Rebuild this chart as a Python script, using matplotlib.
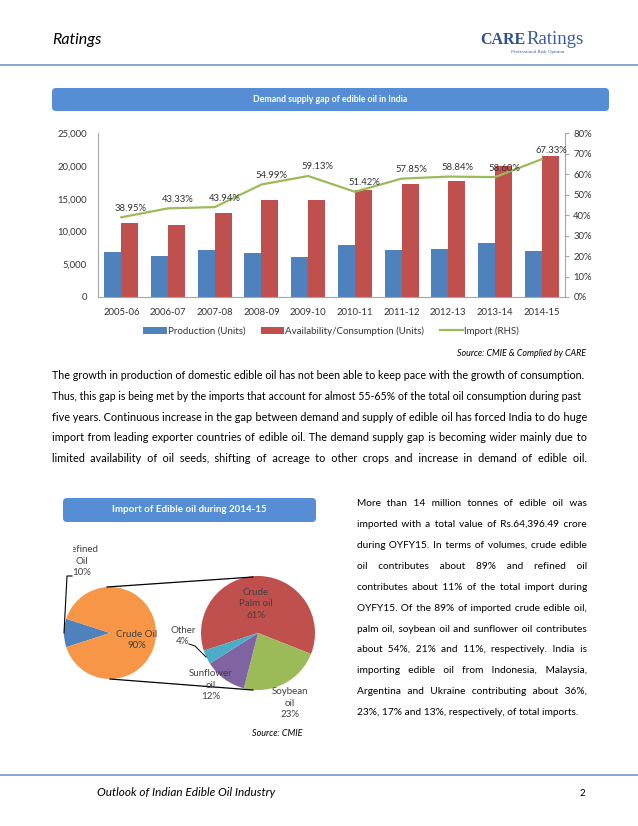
import matplotlib
matplotlib.use("Agg")
import matplotlib.pyplot as plt
from matplotlib.patches import FancyBboxPatch
from matplotlib.transforms import Bbox
from matplotlib.ticker import FuncFormatter, MultipleLocator

plt.rcParams["font.family"] = ["Lato", "DejaVu Sans"]

W, H = 638, 826

# ---- data -------------------------------------------------------------
years = ["2005-06", "2006-07", "2007-08", "2008-09", "2009-10",
         "2010-11", "2011-12", "2012-13", "2013-14", "2014-15"]
production = [6900, 6220, 7180, 6700, 6080, 7920, 7250, 7280, 8250, 7020]
availability = [11310, 10970, 12810, 14890, 14880, 16300, 17200, 17690, 19930, 21490]
import_share = [38.95, 43.33, 43.94, 54.99, 59.13, 51.42, 57.85, 58.84, 58.60, 67.33]

split_names = ["Refined\nOil", "Crude Oil"]
split_share = [10, 90]
crude_names = ["Crude\nPalm oil", "Soybean\noil", "Sunflower\noil", "Other"]
crude_share = [61, 23, 12, 4]

BLUE, RED, GREEN = "#4F81BD", "#C0504D", "#9BBB59"
PURPLE, TEAL, ORANGE = "#8064A2", "#4BACC6", "#F79646"
BANNER = "#558ED5"
RULE = "#7F9FCF"
TXT = "#333333"
PL = "#404040"

para1 = [
    "The growth in production of domestic edible oil has not been able to keep pace with the growth of consumption.",
    "Thus, this gap is being met by the imports that account for almost 55-65% of the total oil consumption during past",
    "five years. Continuous increase in the gap between demand and supply of edible oil has forced India to do huge",
    "import from leading exporter countries of edible oil. The demand supply gap is becoming wider mainly due to",
    "limited availability of oil seeds, shifting of acreage to other crops and increase in demand of edible oil.",
]
para2 = [
    "More than 14 million tonnes of edible oil was",
    "imported with a total value of Rs.64,396.49 crore",
    "during OYFY15. In terms of volumes, crude edible",
    "oil contributes about 89% and refined oil",
    "contributes about 11% of the total import during",
    "OYFY15. Of the 89% of imported crude edible oil,",
    "palm oil, soybean oil and sunflower oil contributes",
    "about 54%, 21% and 11%, respectively. India is",
    "importing edible oil from Indonesia, Malaysia,",
    "Argentina and Ukraine contributing about 36%,",
    "23%, 17% and 13%, respectively, of total imports.",
]

fig = plt.figure(figsize=(W / 100, H / 100), dpi=100)


def sheet(z):
    a = fig.add_axes([0, 0, 1, 1], zorder=z)
    a.set_xlim(0, W)
    a.set_ylim(H, 0)
    a.axis("off")
    return a


page = sheet(0)
top = sheet(5)
rend = fig.canvas.get_renderer()


def frac(x0, y0, x1, y1):
    # pixel box on the page -> figure fraction rect
    return [x0 / W, 1 - y1 / H, (x1 - x0) / W, (y1 - y0) / H]


def banner(x0, y0, x1, y1, text, size):
    p = FancyBboxPatch((x0, y0), x1 - x0, y1 - y0,
                       boxstyle="round,pad=0,rounding_size=4",
                       facecolor=BANNER, edgecolor="none")
    page.add_patch(p)
    page.text((x0 + x1) / 2, (y0 + y1) / 2, text, ha="center", va="center",
              color="white", fontsize=size, weight="bold")


def width_of(s, size):
    t = page.text(0, 0, s, fontsize=size)
    w = t.get_window_extent(rend).width
    t.remove()
    return w


HAIR = "\u200a"


def justified(lines, x0, x1, y0, dy, size, last_ragged=False):
    hw = (width_of("a" + HAIR * 20 + "a", size) - width_of("aa", size)) / 20
    for k, line in enumerate(lines):
        y = y0 + k * dy
        words = line.split()
        plain = " ".join(words)
        w0 = width_of(plain, size)
        if w0 >= x1 - x0:
            page.text(x0, y, plain, fontsize=size * (x1 - x0) / w0,
                      va="baseline", color="black")
            continue
        if last_ragged and k == len(lines) - 1:
            page.text(x0, y, plain, fontsize=size, va="baseline", color="black")
            continue
        n = len(words) - 1
        total = int(round((x1 - x0 - w0) / hw))
        s = words[0]
        for i in range(n):
            kk = (i + 1) * total // n - i * total // n
            s += " " + HAIR * kk + words[i + 1]
        page.text(x0, y, s, fontsize=size, va="baseline", color="black")


# ---- header ------------------------------------------------------------
page.text(52, 40, "Ratings", style="italic", fontsize=11.5, va="center")
page.text(480, 40, "CARE", family="Liberation Serif", weight="bold",
          fontsize=11.5, color="#2F4F8F", va="center")
page.text(526, 40, "Ratings", family="Liberation Serif", fontsize=13.5,
          color="#3A5A9C", va="center")
page.text(538, 52, "Professional Risk Opinion", family="Liberation Serif",
          fontsize=3.6, color="#3A5A9C", ha="center", va="center")
page.plot([0, W], [65, 65], color=RULE, lw=1.3)

banner(52, 88, 609, 111, "Demand supply gap of edible oil in India", 6.3)

# ---- bar + line chart --------------------------------------------------
ax = fig.add_axes(frac(98, 133.3, 565, 297), zorder=2)
ax.set_facecolor("none")
xs = range(len(years))
bw = 0.364
b1 = ax.bar([x - bw / 2 for x in xs], production, bw, color=BLUE,
            label="Production (Units)")
b2 = ax.bar([x + bw / 2 for x in xs], availability, bw, color=RED,
            label="Availability/Consumption (Units)")
ax.set_xlim(-0.5, len(years) - 0.5)
ax.set_ylim(0, 25000)
ax.yaxis.set_major_locator(MultipleLocator(5000))
ax.yaxis.set_major_formatter(FuncFormatter(lambda v, p: f"{v:,.0f}"))
ax.set_xticks(list(xs))
ax.set_xticklabels(years)
ax.tick_params(axis="x", length=0, pad=8, labelsize=6.8, labelcolor=TXT)
ax.tick_params(axis="y", length=0, pad=8, labelsize=6.8, labelcolor=TXT)
for s in ["top", "right"]:
    ax.spines[s].set_visible(False)
for s in ["left", "bottom"]:
    ax.spines[s].set_color("#A6A6A6")
    ax.spines[s].set_linewidth(0.8)

ax2 = ax.twinx()
ln, = ax2.plot(list(xs), import_share, color=GREEN, lw=1.6, label="Import (RHS)")
ax2.set_ylim(0, 80)
ax2.yaxis.set_major_locator(MultipleLocator(10))
ax2.yaxis.set_major_formatter(FuncFormatter(lambda v, p: f"{v:.0f}%"))
ax2.tick_params(axis="y", length=3, width=0.8, color="#A6A6A6", pad=3,
                labelsize=6.8, labelcolor=TXT)
for s in ["top", "left", "bottom"]:
    ax2.spines[s].set_visible(False)
ax2.spines["right"].set_color("#A6A6A6")
ax2.spines["right"].set_linewidth(0.8)
for x, v in zip(xs, import_share):
    ax2.annotate(f"{v:.2f}%", (x, v), xytext=(7, 6.5), textcoords="offset points",
                 ha="center", va="center", fontsize=6.8, color=TXT)

fig.legend(handles=[b1, b2, ln], loc="center", bbox_to_anchor=(331 / W, 1 - 331 / H),
           ncol=3, frameon=False, fontsize=7, handlelength=2.4, handleheight=0.75,
           handletextpad=0.1, columnspacing=1.6, labelcolor=TXT)

page.text(586, 353, "Source: CMIE & Complied by CARE", style="italic",
          fontsize=6.4, ha="right", va="center")

# ---- paragraph ---------------------------------------------------------
justified(para1, 52, 587, 379, 20.8, 7.8)

# ---- pie of pie --------------------------------------------------------
banner(63, 498, 316, 522, "Import of Edible oil during 2014-15", 7)

c1, r1 = (110, 633), 46
c2, r2 = (258, 633), 57
pa = fig.add_axes(frac(c1[0] - r1, c1[1] - r1, c1[0] + r1, c1[1] + r1), zorder=2)
pa.pie(split_share, colors=[BLUE, ORANGE], startangle=162, counterclock=True,
       wedgeprops=dict(linewidth=0))
pa.set_xlim(-1, 1)
pa.set_ylim(-1, 1)
pb = fig.add_axes(frac(c2[0] - r2, c2[1] - r2, c2[0] + r2, c2[1] + r2), zorder=2)
pb.pie(crude_share, colors=[RED, GREEN, PURPLE, TEAL], startangle=198,
       counterclock=False, wedgeprops=dict(linewidth=0))
pb.set_xlim(-1, 1)
pb.set_ylim(-1, 1)

top.plot([107, 253], [587, 577], color="black", lw=0.9)
top.plot([110, 253], [679, 690], color="black", lw=0.9)

t = top.text(82, 561, f"{split_names[0]}\n{split_share[0]}%", ha="center",
             va="center", fontsize=7, color=PL, linespacing=1.4)
t.set_clip_box(Bbox.from_extents(72.5, H - 740, 330, H - 530))
t.set_clip_on(True)
top.plot([72, 67, 64], [576, 576, 633], color="black", lw=0.8)
top.text(137, 640, f"{split_names[1]}\n{split_share[1]}%", ha="center",
         va="center", fontsize=7, color=PL, linespacing=1.4)

label_xy = [(256, 604), (290, 703), (211, 685), (183, 636)]
for (x, y), name, v in zip(label_xy, crude_names, crude_share):
    top.text(x, y, f"{name}\n{v}%", ha="center", va="center", fontsize=7,
             color=PL, linespacing=1.4)
top.plot([189, 195, 206], [644, 646, 657], color="black", lw=0.7)

page.text(277, 734, "Source: CMIE", style="italic", fontsize=6.5,
          ha="center", va="center")

justified(para2, 357, 587, 506.5, 20.85, 7.3, last_ragged=True)

# ---- footer ------------------------------------------------------------
page.plot([0, W], [775, 775], color=RULE, lw=1.3)
page.text(97, 793, "Outlook of Indian Edible Oil Industry", style="italic",
          fontsize=8.5, va="center")
page.text(580, 793, "2", fontsize=7, va="center")

fig.savefig("out.png", dpi=100)
